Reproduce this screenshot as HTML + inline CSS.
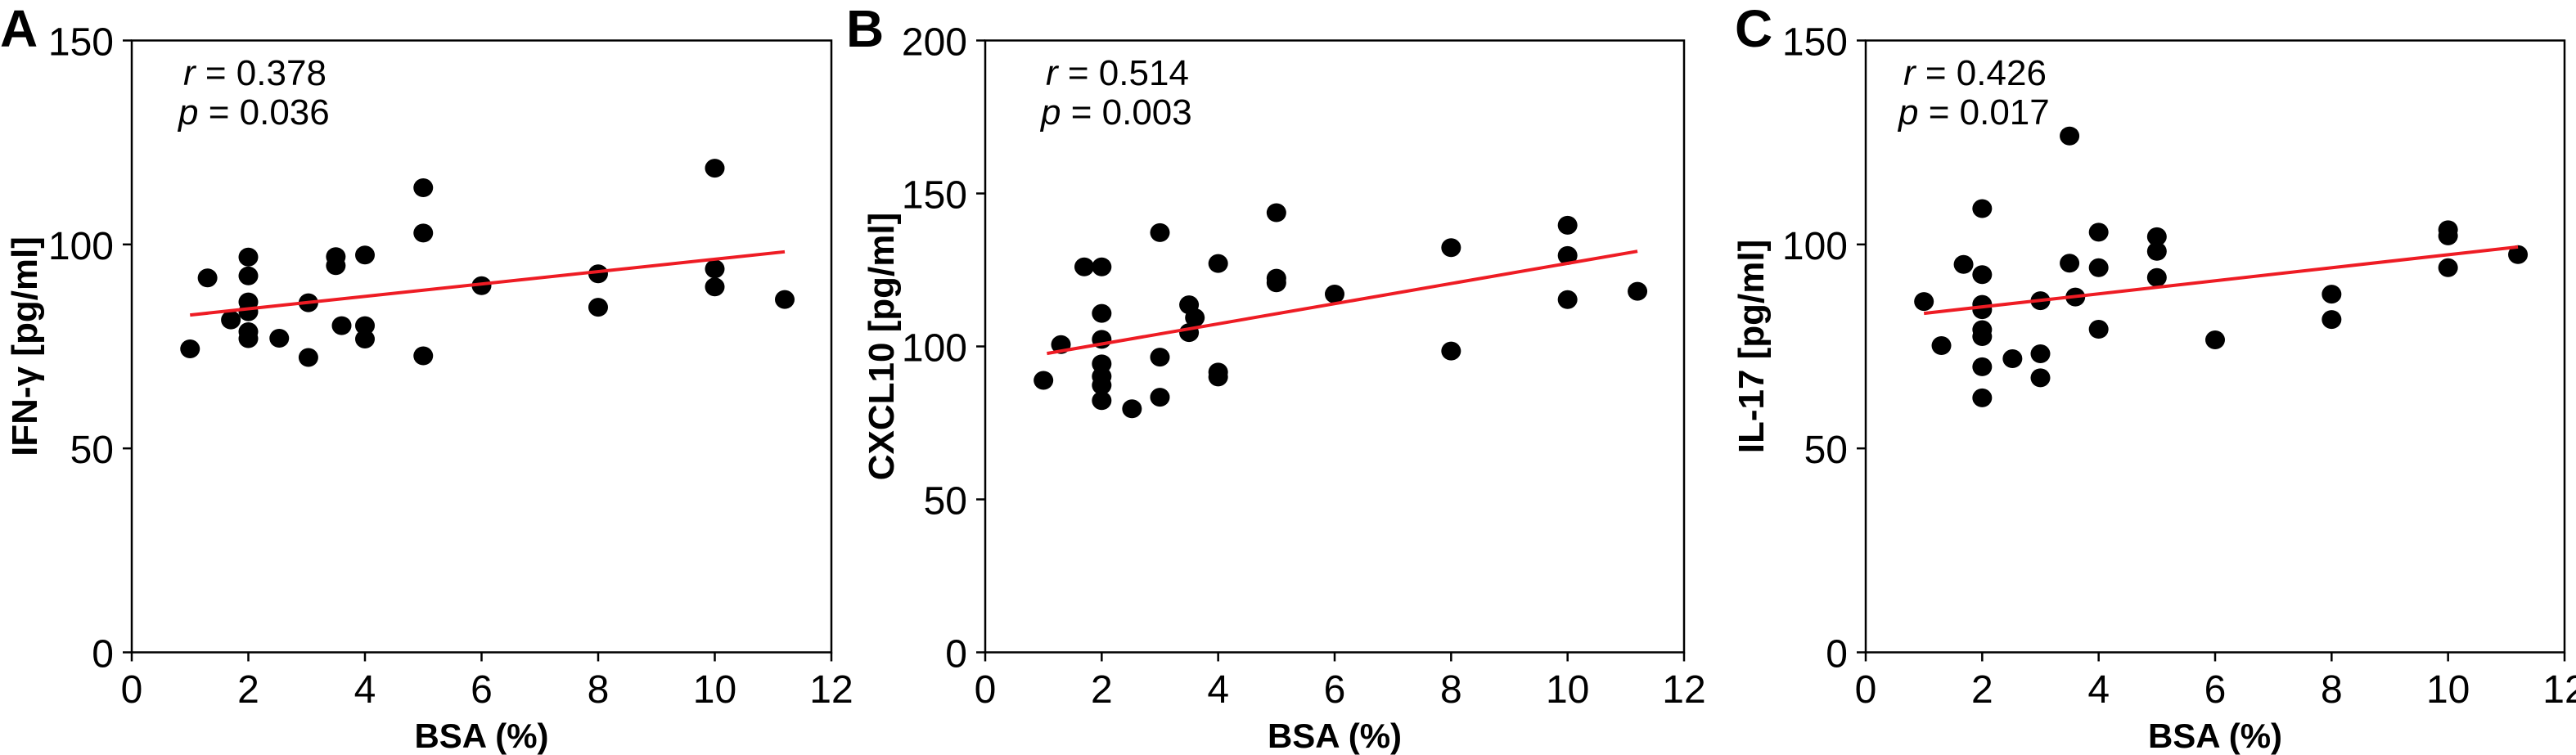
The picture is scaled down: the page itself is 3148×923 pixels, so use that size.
<!DOCTYPE html>
<html><head><meta charset="utf-8">
<style>
html,body{margin:0;padding:0;background:#fff;}
svg{display:block;font-family:"Liberation Sans",sans-serif;}
</style></head>
<body>
<svg id="chart" width="3148" height="923" viewBox="0 0 3148 923" xmlns="http://www.w3.org/2000/svg"></svg>
<script>
const xTicks = [0,2,4,6,8,10,12];
const yTicksA = [0,50,100,150];
const yTicksB = [0,50,100,150,200];
const yTicksC = [0,50,100,150];

const xA = [1.0,1.3,1.7,2,2,2,2,2,2,2.53,3.03,3.03,3.5,3.5,3.6,4,4,4,5,5,5,6,8,8,10,10,10,11.2];
const yA = [74.4,91.8,81.5,96.9,92.3,85.9,83.5,78.6,76.9,77.0,85.7,72.3,97.0,94.8,80.1,97.4,80.1,76.8,113.9,102.8,72.7,89.9,92.8,84.6,118.7,94.0,89.6,86.5];
const fitA = [[1.0,82.7],[11.2,98.2]];

const xB = [1.0,1.3,1.7,2,2,2,2,2,2,2,2.52,3,3,3,3.5,3.5,3.6,4,4,4,5,5,5,6,8,8,10,10,10,11.2];
const yB = [88.9,100.6,126.0,126.0,110.8,102.3,94.3,90.2,87.3,82.3,79.6,137.2,96.5,83.4,113.6,104.5,109.4,127.1,91.6,90.0,143.7,122.3,120.8,117.1,132.3,98.5,139.6,129.7,115.3,118.0];
const fitB = [[1.06,97.7],[11.2,131.1]];

const xC = [1.0,1.3,1.68,2,2,2,2,2,2,2,2,2.52,3,3,3,3.5,3.5,3.6,4,4,4,5,5,5,6,8,8,10,10,10,11.2];
const yC = [86.0,75.2,95.1,108.8,92.6,85.3,84.0,79.1,77.4,70.0,62.4,72.0,86.2,73.2,67.3,126.6,95.4,87.1,103.0,94.3,79.2,101.9,98.3,91.9,76.6,87.8,81.6,103.6,102.1,94.3,97.5];
const fitC = [[1.0,83.1],[11.2,99.4]];

const NS = "http://www.w3.org/2000/svg";
const svg = document.getElementById('chart');
function mk(tag, attrs, parent){
  const e = document.createElementNS(NS, tag);
  for (const k in attrs) e.setAttribute(k, attrs[k]);
  (parent||svg).appendChild(e);
  return e;
}

const panels = [
  {id:'a', letter:'A', lx:0, x0:161, x1:1016, ymax:150, yt:yTicksA, xs:xA, ys:yA, fit:fitA, title:'IFN-γ [pg/ml]', tx:30, r:'0.378', p:'0.036', ax:218},
  {id:'b', letter:'B', lx:1034, x0:1204, x1:2058, ymax:200, yt:yTicksB, xs:xB, ys:yB, fit:fitB, title:'CXCL10 [pg/ml]', tx:1077, r:'0.514', p:'0.003', ax:1272},
  {id:'c', letter:'C', lx:2120, x0:2280, x1:3134, ymax:150, yt:yTicksC, xs:xC, ys:yC, fit:fitC, title:'IL-17 [pg/ml]', tx:2140, r:'0.426', p:'0.017', ax:2320}
];
const yBot = 797.5, yTop = 49.5;

panels.forEach(P => {
  const sx = v => P.x0 + (v/12)*(P.x1-P.x0);
  const sy = v => yBot - (v/P.ymax)*(yBot-yTop);
  const g = mk('g', {});
  
  

  const lt = mk('text', {x:P.lx, y:57, 'font-size':64, 'font-weight':'bold', fill:'#000'}, g);
  lt.textContent = P.letter;
  
  

  const frame = mk('rect', {x:P.x0, y:yTop, width:P.x1-P.x0, height:yBot-yTop, fill:'none', stroke:'#000', 'stroke-width':2.5}, g);
  
  

  xTicks.forEach(t => {
    const X = sx(t);
    const tk = mk('line', {x1:X, x2:X, y1:yBot, y2:yBot+11, stroke:'#000', 'stroke-width':2.5}, g);
    
    
    const tl = mk('text', {x:X, y:859, 'font-size':48, 'text-anchor':'middle', fill:'#000'}, g);
    tl.textContent = t;
    
    
  });
  P.yt.forEach(t => {
    const Y = sy(t);
    const tk = mk('line', {x1:P.x0-11, x2:P.x0, y1:Y, y2:Y, stroke:'#000', 'stroke-width':2.5}, g);
    
    
    const tl = mk('text', {x:P.x0-22, y:Y+18, 'font-size':48, 'text-anchor':'end', fill:'#000'}, g);
    tl.textContent = t;
    
    
  });

  const xt = mk('text', {x:(P.x0+P.x1)/2, y:914, 'font-size':42, 'font-weight':'bold', 'text-anchor':'middle', fill:'#000'}, g);
  xt.textContent = 'BSA (%)';
  
  

  const yy = (yTop+yBot)/2;
  const ytl = mk('text', {x:P.tx+15, y:yy, 'font-size':44, 'font-weight':'bold', 'text-anchor':'middle', fill:'#000', transform:'rotate(-90 '+(P.tx+15)+' '+yy+')'}, g);
  ytl.textContent = P.title;
  
  

  const rt = mk('text', {x:P.ax+6, y:104, 'font-size':44, fill:'#000'}, g);
  rt.innerHTML = '<tspan font-style="italic">r</tspan> = ' + P.r;
  
  
  const pt = mk('text', {x:P.ax, y:152, 'font-size':44, fill:'#000'}, g);
  pt.innerHTML = '<tspan font-style="italic">p</tspan> = ' + P.p;
  
  

  P.xs.forEach((xv, i) => {
    const c = mk('ellipse', {cx:sx(xv), cy:sy(P.ys[i]), rx:12, ry:11.5, fill:'#000'}, g);
    
    
  });

  const fl = mk('line', {x1:sx(P.fit[0][0]), y1:sy(P.fit[0][1]), x2:sx(P.fit[1][0]), y2:sy(P.fit[1][1]), stroke:'#ee1c24', 'stroke-width':4}, g);
  
  
});
</script>
</body></html>
